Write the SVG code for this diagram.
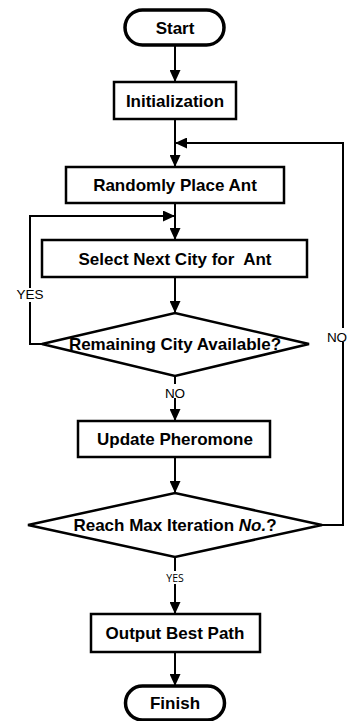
<svg xmlns="http://www.w3.org/2000/svg" width="348" height="721" viewBox="0 0 348 721">
<style>
.box{fill:#fff;stroke:#000;stroke-width:2.5}
.term{fill:#fff;stroke:#000;stroke-width:3.5}
.t{font-family:"Liberation Sans",Arial,sans-serif;font-weight:bold;font-size:17px;text-anchor:middle;fill:#000;white-space:pre}
.lbl{font-family:"Liberation Sans",Arial,sans-serif;font-size:13.5px;text-anchor:middle;fill:#000}
.lbl2{font-family:"Open Sans","Liberation Sans",sans-serif;font-size:10.5px;text-anchor:middle;fill:#000}
.c{fill:none;stroke:#000;stroke-width:2}
</style>
<defs>
<marker id="ah" markerUnits="userSpaceOnUse" markerWidth="12" markerHeight="11" refX="12" refY="5.5" orient="auto">
<path d="M0,0 L12,5.5 L0,11 z" fill="#000"/>
</marker>
</defs>
<rect width="348" height="721" fill="#fff"/>
<g id="connectors">
<line class="c" x1="175" y1="45" x2="175" y2="82" marker-end="url(#ah)"/>
<line class="c" x1="175" y1="119" x2="175" y2="167" marker-end="url(#ah)"/>
<line class="c" x1="175" y1="203" x2="175" y2="240" marker-end="url(#ah)"/>
<line class="c" x1="175" y1="277" x2="175" y2="313" marker-end="url(#ah)"/>
<line class="c" x1="175" y1="376" x2="175" y2="421" marker-end="url(#ah)"/>
<line class="c" x1="175" y1="457" x2="175" y2="493" marker-end="url(#ah)"/>
<line class="c" x1="175" y1="557" x2="175" y2="614" marker-end="url(#ah)"/>
<line class="c" x1="175" y1="652" x2="175" y2="686" marker-end="url(#ah)"/>
<path class="c" d="M42,344 H30 V216 H175" marker-end="url(#ah)"/>
<path class="c" d="M322,525 H343 V143 H175" marker-end="url(#ah)"/>
<rect x="14" y="288" width="32" height="14" fill="#fff"/>
<text class="lbl" x="30" y="299">YES</text>
<rect x="163" y="384" width="24" height="14" fill="#fff"/>
<text class="lbl" x="175" y="398">NO</text>
<rect x="325" y="328" width="23" height="14" fill="#fff"/>
<text class="lbl" x="337" y="342">NO</text>
<rect x="163" y="571" width="24" height="13" fill="#fff"/>
<text class="lbl2" x="175" y="582">YES</text>
</g>
<g id="start">
<rect class="term" x="125" y="10" width="99" height="35" rx="17.5"/>
<text class="t" x="175" y="33.5">Start</text>
</g>
<g id="init">
<rect class="box" x="114" y="82" width="122" height="37"/>
<text class="t" x="175" y="106.5">Initialization</text>
</g>
<g id="place">
<rect class="box" x="66" y="167" width="218" height="36"/>
<text class="t" x="175" y="191">Randomly Place Ant</text>
</g>
<g id="select">
<rect class="box" x="42" y="240" width="265" height="37"/>
<text class="t" x="175" y="264.5" xml:space="preserve">Select Next City for  Ant</text>
</g>
<g id="remaining">
<polygon class="box" points="42,344 175,313 309,344 175,376"/>
<text class="t" x="175" y="350">Remaining City Available?</text>
</g>
<g id="update">
<rect class="box" x="78" y="421" width="192" height="36"/>
<text class="t" x="175" y="445">Update Pheromone</text>
</g>
<g id="maxiter">
<polygon class="box" points="28,525 175,493 322,525 175,557"/>
<text class="t" x="175" y="531">Reach Max Iteration <tspan font-style="italic">No.</tspan>?</text>
</g>
<g id="output">
<rect class="box" x="91" y="614" width="169" height="38"/>
<text class="t" x="175" y="639">Output Best Path</text>
</g>
<g id="finish">
<rect class="term" x="125.5" y="686" width="99" height="34" rx="17"/>
<text class="t" x="175" y="709">Finish</text>
</g>
</svg>
